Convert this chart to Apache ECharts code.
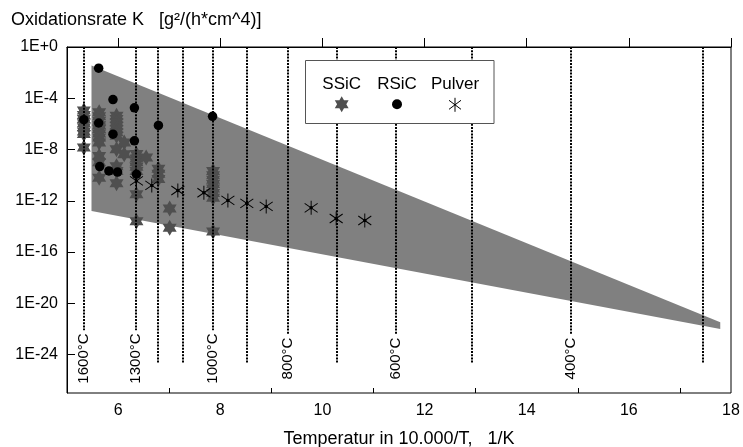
<!DOCTYPE html>
<html><head><meta charset="utf-8">
<script src="https://cdn.jsdelivr.net/npm/echarts@6/dist/echarts.min.js"></script>
<style>html,body{margin:0;padding:0;background:#fff}#c{width:743px;height:447px}</style>
</head><body><div id="c"></div>
<script>
const FONT = '"Liberation Sans", Arial, sans-serif';
const yTitle = 'Oxidationsrate K   [g²/(h*cm^4)]';
const xTitle = 'Temperatur in 10.000/T,   1/K';
const xTickValues = [6, 8, 10, 12, 14, 16, 18];
const xMinorTickValues = [7, 9, 11, 13, 15, 17];
const yTickValues = [0, -4, -8, -12, -16, -20, -24]; // exponents of K
const legendNames = ['SSiC', 'RSiC', 'Pulver'];

// temperature reference lines (x = 10000/T)
const tempLineX = [5.34, 6.36, 6.79, 7.28, 7.86, 8.53, 9.32, 10.28, 11.45, 12.93, 14.86, 17.45];
const tempLineLabel = ['1600°C', '1300°C', '', '', '1000°C', '', '800°C', '', '600°C', '', '400°C', ''];

// grey scatter band (polygon vertices), log10 K
const bandX = [5.48, 17.79, 17.79, 5.48];
const bandLogK = [-1.44, -21.47, -22.0, -12.8];

// SSiC (stars), log10 K
const ssicX = [
  5.33, 5.33, 5.33, 5.33, 5.33, 5.33, 5.33, 5.33,
  5.63, 5.63, 5.63, 5.63, 5.63, 5.63, 5.63, 5.63, 5.63, 5.63, 5.63,
  5.97, 5.97, 5.97, 5.97, 5.97, 5.97, 5.97, 5.97, 5.97, 5.97, 5.97,
  6.12, 6.12,
  6.36, 6.36, 6.36, 6.36, 6.36, 6.36, 6.36,
  6.55,
  6.79, 6.79, 6.79,
  7.01, 7.01,
  7.86, 7.86, 7.86, 7.86, 7.86, 7.86, 7.86, 7.86
];
const ssicLogK = [
  -4.96, -5.3, -5.62, -5.95, -6.27, -6.6, -6.79, -7.84,
  -5.1, -5.4, -5.75, -6.1, -6.4, -6.75, -7.06, -7.45, -8.5, -9.0, -10.2,
  -5.36, -5.62, -5.88, -6.15, -6.4, -6.65, -6.93, -7.97, -9.3, -9.67, -10.64,
  -7.45, -8.36,
  -8.35, -8.7, -9.0, -9.35, -9.67, -11.5, -13.6,
  -8.63,
  -9.5, -9.9, -10.3,
  -12.6, -14.1,
  -9.67, -10.0, -10.35, -10.7, -11.05, -11.4, -11.76, -14.4
];

// RSiC (dots), log10 K
const rsicX = [5.62, 5.33, 5.62, 5.90, 5.90, 6.32, 6.32, 6.79, 7.85, 5.64, 5.82, 5.99, 6.36];
const rsicLogK = [-1.65, -5.67, -5.93, -4.10, -6.8, -4.75, -7.32, -6.12, -5.41, -9.33, -9.67, -9.76, -9.93];

// Pulver (asterisks), log10 K
const pulverX = [6.36, 6.66, 7.17, 7.68, 8.15, 8.52, 8.90, 9.78, 10.27, 10.83];
const pulverLogK = [-10.45, -10.8, -11.2, -11.37, -11.97, -12.2, -12.44, -12.55, -13.38, -13.54];

const zip = (xs, ys) => xs.map((x, i) => [x, ys[i]]);
const STAR = 'path://M0,-10L2.887,-5L8.66,-5L5.774,0L8.66,5L2.887,5L0,10L-2.887,5L-8.66,5L-5.774,0L-8.66,-5L-2.887,-5Z';
const ASTER = 'path://M6,0L6,14M0,2.5L12,11.5M0,11.5L12,2.5';
const STAR_COLOR = '#4f4f4f';

const chart = echarts.init(document.getElementById('c'), null, {renderer: 'canvas'});

const option = {
  animation: false,
  backgroundColor: '#fff',
  textStyle: {fontFamily: FONT},
  title: {
    text: yTitle, left: 11, top: 11, padding: 0,
    textStyle: {fontSize: 18, fontWeight: 'normal', color: '#000', fontFamily: FONT}
  },
  grid: {left: 67, right: 12, top: 47, bottom: 54, show: true, borderColor: '#000', borderWidth: 1,
         backgroundColor: 'transparent', containLabel: false, outerBoundsMode: 'none'},
  xAxis: [{
    type: 'value', min: 5, max: 18, interval: 1,
    name: xTitle, nameLocation: 'middle', nameGap: 37,
    nameTextStyle: {fontSize: 18, color: '#000', fontFamily: FONT},
    axisLine: {show: true, lineStyle: {color: '#000', width: 1}},
    axisTick: {show: true, inside: true, length: 9, customValues: xTickValues, lineStyle: {color: '#000'}},
    axisLabel: {show: true, customValues: xTickValues, fontSize: 16, color: '#000', margin: 10, fontFamily: FONT},
    splitLine: {show: false}
  }, {
    type: 'value', min: 5, max: 18, interval: 1, position: 'bottom',
    axisLine: {show: false},
    axisTick: {show: true, inside: true, length: 5, customValues: xMinorTickValues, lineStyle: {color: '#000'}},
    axisLabel: {show: false},
    splitLine: {show: false}
  }],
  yAxis: {
    type: 'value', min: -27, max: 0, interval: 1,
    axisLine: {show: true, lineStyle: {color: '#000', width: 1}},
    axisTick: {show: true, inside: true, length: 8, customValues: yTickValues, lineStyle: {color: '#000'}},
    axisLabel: {
      show: true, customValues: yTickValues, fontSize: 16, color: '#000', margin: 9, fontFamily: FONT,
      formatter: v => (v === 0 ? '1E+0' : '1E' + v)
    },
    splitLine: {show: false}
  },
  legend: [
    {data: [legendNames[0]], left: 341.7 - 7, top: 104.3 - 8, padding: 0, itemWidth: 14, itemHeight: 16, selectedMode: false, formatter: () => '', z: 101, icon: STAR},
    {data: [legendNames[1]], left: 397 - 5, top: 104.3 - 5, padding: 0, itemWidth: 10, itemHeight: 10, selectedMode: false, formatter: () => '', z: 101, icon: 'circle'},
    {data: [legendNames[2]], left: 455 - 6.5, top: 104.3 - 7, padding: 0, itemWidth: 13, itemHeight: 14, selectedMode: false, formatter: () => '', z: 101, icon: ASTER,
     itemStyle: {color: 'rgba(0,0,0,0)', borderColor: '#000', borderWidth: 1}}
  ],
  graphic: [
    {type: 'rect', z: 100, shape: {x: 305.5, y: 60.5, width: 188.5, height: 63}, style: {fill: '#fff', stroke: '#555', lineWidth: 1}},
    {type: 'text', z: 102, x: 341.7, y: 84, style: {text: legendNames[0], font: '17px ' + FONT, fill: '#000', align: 'center', verticalAlign: 'middle'}},
    {type: 'text', z: 102, x: 397, y: 84, style: {text: legendNames[1], font: '17px ' + FONT, fill: '#000', align: 'center', verticalAlign: 'middle'}},
    {type: 'text', z: 102, x: 455, y: 84, style: {text: legendNames[2], font: '17px ' + FONT, fill: '#000', align: 'center', verticalAlign: 'middle'}}
  ],
  series: [
    {
      name: 'band', type: 'custom', z: 1, silent: true,
      data: zip(bandX, bandLogK),
      renderItem: (params, api) => {
        if (params.dataIndex !== 0) return null;
        const pts = bandX.map((x, i) => api.coord([x, bandLogK[i]]));
        return {type: 'polygon', shape: {points: pts}, style: {fill: '#808080', stroke: null}};
      }
    },
    {
      name: 'SSiC', type: 'scatter', z: 2,
      symbol: STAR, symbolSize: [14, 16],
      itemStyle: {color: STAR_COLOR, opacity: 1},
      data: zip(ssicX, ssicLogK)
    },
    {
      name: 'tempLines', type: 'custom', z: 3, silent: true,
      data: tempLineX.map(x => [x, 0]),
      renderItem: (params, api) => {
        const x = api.value(0);
        const p1 = api.coord([x, 0]);
        const p2 = api.coord([x, -24.7]);
        const children = [{
          type: 'line',
          shape: {x1: Math.round(p1[0]), y1: p1[1], x2: Math.round(p1[0]), y2: p2[1]},
          style: {stroke: '#000', lineWidth: 2, lineDash: [2, 1.2]}
        }];
        const lab = tempLineLabel[params.dataIndex];
        if (lab) {
          const pl = api.coord([x, -24.31]);
          children.push({
            type: 'text', x: Math.round(p1[0]), y: pl[1], rotation: Math.PI / 2,
            style: {text: lab, font: '15px ' + FONT, fill: '#000', align: 'center', verticalAlign: 'middle',
                    backgroundColor: '#fff', padding: [0, 3]}
          });
        }
        return {type: 'group', children: children};
      }
    },
    {
      name: 'RSiC', type: 'scatter', z: 4,
      symbol: 'circle', symbolSize: 9.5,
      itemStyle: {color: '#000', opacity: 1},
      data: zip(rsicX, rsicLogK)
    },
    {
      name: 'Pulver', type: 'scatter', z: 5,
      symbol: ASTER, symbolSize: [13, 14],
      itemStyle: {color: 'rgba(0,0,0,0)', borderColor: '#000', borderWidth: 1, opacity: 1},
      data: zip(pulverX, pulverLogK)
    },
    {
      name: 'PulverCenter', type: 'scatter', z: 5,
      symbol: 'circle', symbolSize: 3.5,
      itemStyle: {color: '#000', opacity: 1},
      data: zip(pulverX, pulverLogK)
    }
  ]
};
chart.setOption(option);
</script>
</body></html>
